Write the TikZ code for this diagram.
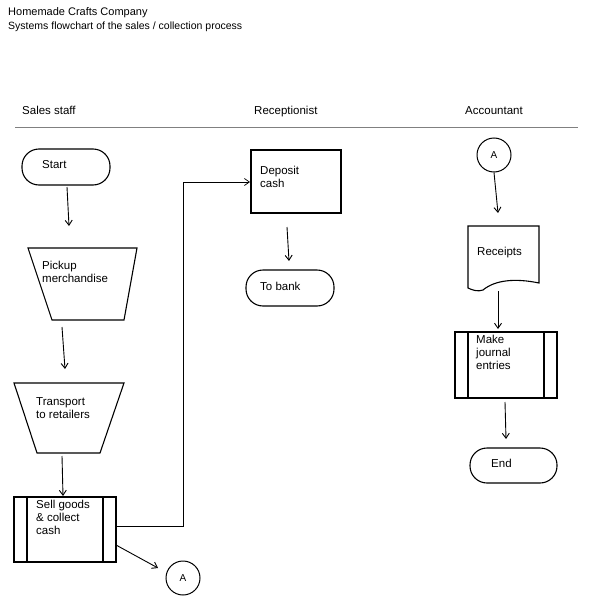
\documentclass[tikz,border=0pt]{standalone}
\usepackage{fontspec}
\setmainfont{Liberation Sans}
\usetikzlibrary{arrows.meta}
\begin{document}
\begin{tikzpicture}[x=1pt,y=-1pt,
  shp/.style={draw,line width=1.1pt},
  txt/.style={font=\fontsize{11.5}{13}\selectfont,align=left,anchor=north west,inner sep=0pt},
  arr/.style={-{Straight Barb[length=5pt,width=7pt]},line width=0.9pt},
  con/.style={draw,circle,line width=1pt,minimum size=34pt,inner sep=0pt,font=\fontsize{10}{11}\selectfont}]
\path[use as bounding box] (0,0) rectangle (610,610);
\node[txt,font=\fontsize{11}{12}\selectfont] (t1) at (8,7) {Homemade Crafts Company};
\node[txt,font=\fontsize{10.5}{12}\selectfont] (t2) at (8,22) {Systems flowchart of the sales / collection process};
\node[txt] (h1) at (22,106) {Sales staff};
\node[txt] (h2) at (254,106) {Receptionist};
\node[txt] (h3) at (465,106) {Accountant};
\draw[line width=0.5pt,gray] (15,127) -- (578,127);
% Start
\draw[shp,rounded corners=17pt] (22,149) rectangle (110,185);
\node[txt] (start) at (42,160) {Start};
\coordinate (s1) at (67,187); \coordinate (s2) at (69,226);
\draw[arr] (s1) -- (s2);
% Pickup
\draw[shp] (28,248) -- (137,248) -- (124,320) -- (52,320) -- cycle;
\node[txt] (pick) at (42,261) {Pickup\\merchandise};
\coordinate (p1) at (62,327); \coordinate (p2) at (65,369);
\draw[arr] (p1) -- (p2);
% Transport
\draw[shp] (14,383) -- (124,383) -- (100,453) -- (37,453) -- cycle;
\node[txt] (trans) at (36,397) {Transport\\to retailers};
\coordinate (q1) at (62,456); \coordinate (q2) at (63,496);
\draw[arr] (q1) -- (q2);
% Sell
\draw[shp] (14,497) rectangle (116,562);
\draw[shp] (27,497) -- (27,562) (103,497) -- (103,562);
\node[txt] (sell) at (36,500) {Sell goods\\\&~collect\\cash};
\node[con] (a1) at (183,578) {A};
\coordinate (c1) at (116,526); \coordinate (c2) at (116,545); \coordinate (c3) at (158,568);
\draw[arr,line width=0.7pt] (c1) -- (183,526) -- (183,182) -- (250,182);
\draw[arr] (c2) -- (c3);
% Deposit
\draw[shp] (251,150) rectangle (341,213);
\node[txt] (dep) at (260,166) {Deposit\\cash};
\coordinate (d1) at (287,227); \coordinate (d2) at (289,261);
\draw[arr] (d1) -- (d2);
\draw[shp,rounded corners=17pt] (246,270) rectangle (334,306);
\node[txt] (bank) at (260,282) {To bank};
% Accountant
\node[con] (a2) at (494,155) {A};
\coordinate (e2) at (498,213);
\draw[arr] (a2.south) -- (e2);
\draw[shp] (468,226) -- (539,226) -- (539,283) .. controls (515,278) and (495,280) .. (483,290) .. controls (478,292) and (472,290) .. (468,288) -- cycle;
\node[txt] (rec) at (477,247) {Receipts};
\coordinate (f1) at (498,291); \coordinate (f2) at (498,329);
\draw[arr] (f1) -- (f2);
\draw[shp] (455,332) rectangle (557,398);
\draw[shp] (468,332) -- (468,398) (544,332) -- (544,398);
\node[txt] (mk) at (476,335) {Make\\journal\\entries};
\coordinate (g1) at (505,402); \coordinate (g2) at (506,439);
\draw[arr] (g1) -- (g2);
\draw[shp,rounded corners=17pt] (470,448) rectangle (557,483);
\node[txt] (end) at (491,459) {End};
\end{tikzpicture}
\end{document}
